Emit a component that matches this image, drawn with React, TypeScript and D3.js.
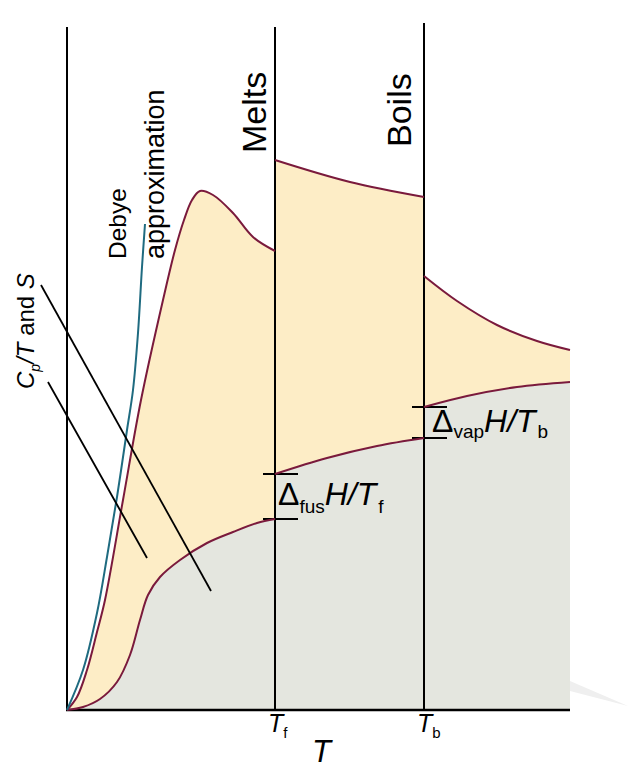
import React from "react";
import * as d3 from "d3";

// Temperature axis (arbitrary units), phase-transition temperatures
const T_MAX = 503;
const Y_MAX = 684;
const T_FUS = 208;
const T_VAP = 357;

// Cp/T curves for each phase: [T, Cp/T]
const cpSolid: [number, number][] = [
  [0, 0], [10, 13], [20, 40], [30, 78], [38, 110], [56, 210], [74, 310], [96, 410],
  [108, 460], [117, 490], [125, 510], [133, 519], [146, 515], [166, 497], [186, 473], [208, 459],
];
const cpLiquid: [number, number][] = [[208, 550], [283, 528], [357, 513]];
const cpGas: [number, number][] = [[357, 434], [390, 409], [430, 385], [470, 369], [503, 360]];

// Entropy curves for each phase: [T, S]
const sSolid: [number, number][] = [
  [0, 0], [16, 3], [33, 11], [50, 28], [63, 55], [73, 90], [81, 115], [93, 133],
  [113, 150], [140, 167], [166, 178], [190, 187], [208, 191],
];
const sLiquid: [number, number][] = [[208, 236], [260, 252], [310, 264], [357, 272]];
const sGas: [number, number][] = [[357, 303], [400, 314], [450, 323], [503, 328]];

// Debye approximation (T^3 law)
const debye: [number, number][] = [
  [0, 0], [16, 40], [30, 97], [40, 153], [50, 213], [60, 280], [66, 320], [71, 377], [75, 443], [78, 486],
];

// Pointer lines for the y label: [[T1, y1], [T2, y2]]
const pointerCp: [number, number][] = [[-19, 328], [80, 152]];
const pointerS: [number, number][] = [[-26, 425], [144, 119]];

const YELLOW = "#fdedc6";
const GREY = "#e4e6df";
const CRIMSON = "#7a1a3c";
const TEAL = "#1f6b80";
const FONT = "'Liberation Sans', Arial, Helvetica, sans-serif";

export default function App() {
  const x = d3.scaleLinear().domain([0, T_MAX]).range([67, 570]);
  const y = d3.scaleLinear().domain([0, Y_MAX]).range([710, 26]);

  const curve = d3.curveCatmullRom.alpha(0.5);
  const area = d3
    .area<[number, number]>()
    .x((d) => x(d[0]))
    .y0(y(0))
    .y1((d) => y(d[1]))
    .curve(curve);
  const line = d3
    .line<[number, number]>()
    .x((d) => x(d[0]))
    .y((d) => y(d[1]))
    .curve(curve);

  const cpSegs = [cpSolid, cpLiquid, cpGas];
  const sSegs = [sSolid, sLiquid, sGas];

  const tick = (tx: number, yv: number, key: string) => (
    <line key={key} x1={x(tx) - 12} x2={x(tx) + 23} y1={y(yv)} y2={y(yv)} stroke="#000" strokeWidth={2} />
  );

  return (
    <svg
      width={633}
      height={774}
      style={{ position: "absolute", left: 0, top: 0, background: "#fff" }}
      fontFamily={FONT}
    >
      {/* watermark wedge */}
      <polygon points="570,681 628,706 570,691" fill="#efefef" />

      {cpSegs.map((s, i) => (
        <path key={"cpa" + i} d={area(s) || ""} fill={YELLOW} />
      ))}
      {sSegs.map((s, i) => (
        <path key={"sa" + i} d={area(s) || ""} fill={GREY} />
      ))}

      {/* axes and transition lines */}
      <line x1={x(0)} x2={x(0)} y1={y(0) + 1} y2={y(683)} stroke="#000" strokeWidth={2} />
      <line x1={x(0) - 1} x2={x(T_MAX)} y1={y(0)} y2={y(0)} stroke="#000" strokeWidth={2.5} />
      <line x1={x(T_FUS)} x2={x(T_FUS)} y1={y(0)} y2={y(683)} stroke="#000" strokeWidth={2} />
      <line x1={x(T_VAP)} x2={x(T_VAP)} y1={y(0)} y2={y(687)} stroke="#000" strokeWidth={2} />

      {tick(T_FUS, sLiquid[0][1], "t1")}
      {tick(T_FUS, sSolid[sSolid.length - 1][1], "t2")}
      {tick(T_VAP, sGas[0][1], "t3")}
      {tick(T_VAP, sLiquid[sLiquid.length - 1][1], "t4")}

      {cpSegs.map((s, i) => (
        <path key={"cpl" + i} d={line(s) || ""} fill="none" stroke={CRIMSON} strokeWidth={2} />
      ))}
      {sSegs.map((s, i) => (
        <path key={"sl" + i} d={line(s) || ""} fill="none" stroke={CRIMSON} strokeWidth={2} />
      ))}
      <path d={line(debye) || ""} fill="none" stroke={TEAL} strokeWidth={2} />

      {[pointerCp, pointerS].map((p, i) => (
        <line
          key={"p" + i}
          x1={x(p[0][0])}
          y1={y(p[0][1])}
          x2={x(p[1][0])}
          y2={y(p[1][1])}
          stroke="#000"
          strokeWidth={1.8}
        />
      ))}

      {/* rotated labels */}
      <text transform="translate(34,389) rotate(-90)" fontSize={24} fill="#000">
        <tspan fontStyle="italic">C</tspan>
        <tspan fontStyle="italic" fontSize={14} dy={6}>p</tspan>
        <tspan fontStyle="italic" dy={-6}>/T</tspan>
        <tspan> and </tspan>
        <tspan fontStyle="italic">S</tspan>
      </text>
      <text transform="translate(126,259) rotate(-90)" fontSize={24.5} fill="#000">Debye</text>
      <text transform="translate(164,259) rotate(-90)" fontSize={27} fill="#000">approximation</text>
      <text transform="translate(266,153) rotate(-90)" fontSize={34} fill="#000">Melts</text>
      <text transform="translate(411,147) rotate(-90)" fontSize={34} fill="#000">Boils</text>

      {/* Δ labels */}
      <text x={278} y={505} fontSize={32} fill="#000">
        <tspan>Δ</tspan>
        <tspan fontSize={19} dy={8}>fus</tspan>
        <tspan fontStyle="italic" dy={-8}>H/T</tspan>
        <tspan fontSize={19} dy={8} dx={2}>f</tspan>
      </text>
      <text x={432} y={432} fontSize={32} fill="#000">
        <tspan>Δ</tspan>
        <tspan fontSize={19} dy={6}>vap</tspan>
        <tspan fontStyle="italic" dy={-6}>H/T</tspan>
        <tspan fontSize={19} dy={6} dx={2}>b</tspan>
      </text>

      {/* x labels */}
      <text x={268} y={732} fontSize={25} fill="#000">
        <tspan fontStyle="italic">T</tspan>
        <tspan fontSize={15} dy={6}>f</tspan>
      </text>
      <text x={417} y={732} fontSize={25} fill="#000">
        <tspan fontStyle="italic">T</tspan>
        <tspan fontSize={15} dy={6}>b</tspan>
      </text>
      <text x={312} y={762} fontSize={31} fontStyle="italic" fill="#000">T</text>
    </svg>
  );
}
